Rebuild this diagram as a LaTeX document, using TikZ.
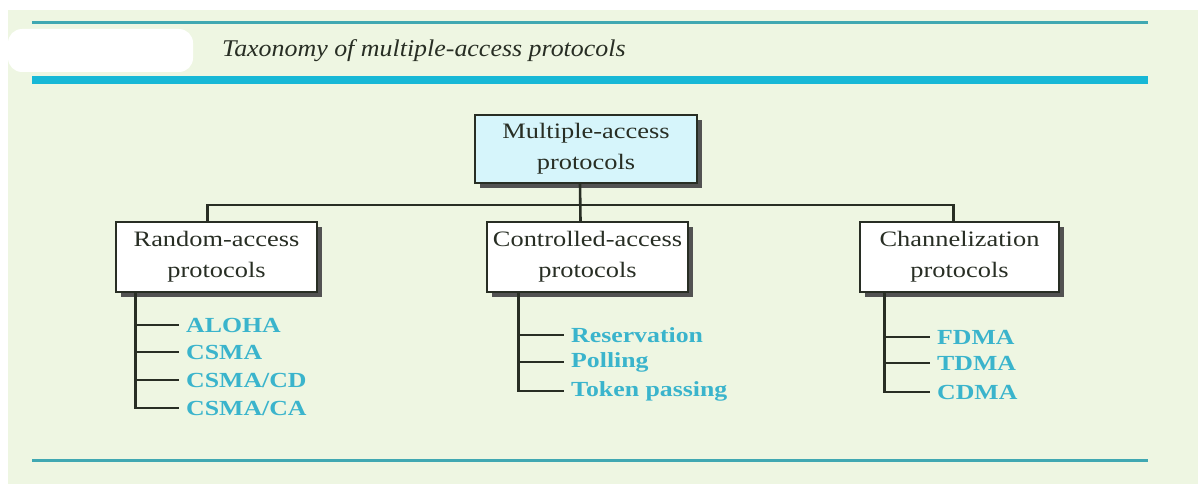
\documentclass[tikz,border=0pt]{standalone}
\usepackage{fontspec}
\setmainfont[FakeStretch=1.2]{Liberation Serif}
\newfontfamily\captionfont[FakeStretch=1.08]{Liberation Serif}
\usepackage{tikz}
\usetikzlibrary{positioning, shadows}

\definecolor{bgGreen}{RGB}{238,246,226}
\definecolor{ruleCyan}{RGB}{23,184,214}
\definecolor{thinCyan}{RGB}{64,168,178}
\definecolor{boxCyan}{RGB}{214,245,251}
\definecolor{itemCyan}{RGB}{58,180,204}
\definecolor{inkDark}{RGB}{40,46,36}

\tikzset{
  protobox/.style={draw=inkDark, line width=1.3pt, fill=white, minimum width=201pt, minimum height=70pt,
    inner sep=0pt, align=center, font=\fontsize{22}{31}\selectfont, text=inkDark,
    drop shadow={shadow xshift=5pt, shadow yshift=-5pt, fill=black!68, opacity=1}},
  protoitem/.style={anchor=west, inner xsep=7pt, inner ysep=0pt, text=itemCyan,
    font=\fontsize{21.5}{24}\selectfont\bfseries},
  link/.style={draw=inkDark, line width=2.6pt}
}

\begin{document}
\begin{tikzpicture}[x=1pt, y=-1pt]
  \useasboundingbox (0,0) rectangle (1198,484);
  \fill[bgGreen] (8,10) rectangle (1198,484);
  \fill[white, rounded corners=14pt] (8,29) rectangle (193,72);
  \draw[thinCyan, line width=3pt] (32,23) -- (1148,23);
  \draw[ruleCyan, line width=8pt] (32,80) -- (1148,80);
  \draw[thinCyan, line width=3pt] (32,460) -- (1148,460);

  \draw
    (222,57) node[anchor=base west, inner sep=0pt, text=inkDark, font=\fontsize{24}{26}\captionfont\itshape] (title){Taxonomy of multiple-access protocols}
    (586,149) node[protobox, fill=boxCyan, minimum width=222pt, minimum height=68pt] (multi){Multiple-access\\protocols}
    (216.5,257) node[protobox] (rand){Random-access\\protocols}
    (587.5,257) node[protobox] (ctrl){Controlled-access\\protocols}
    (959.5,257) node[protobox, minimum width=199pt] (chan){Channelization\\protocols}
    (179,325) node[protoitem] (aloha){ALOHA}
    (179,352) node[protoitem] (csma){CSMA}
    (179,380) node[protoitem] (csmacd){CSMA/CD}
    (179,408) node[protoitem] (csmaca){CSMA/CA}
    (564,335) node[protoitem] (reserv){Reservation}
    (564,362) node[protoitem] (poll){Polling}
    (564,391) node[protoitem] (token){Token passing}
    (930,337) node[protoitem] (fdma){FDMA}
    (930,363) node[protoitem] (tdma){TDMA}
    (930,392) node[protoitem] (cdma){CDMA};

  \coordinate (bus) at (0,205);
  \coordinate (randSpine) at ([xshift=20pt]rand.south west);
  \coordinate (ctrlSpine) at ([xshift=32pt]ctrl.south west);
  \coordinate (chanSpine) at ([xshift=25pt]chan.south west);

  \begin{scope}[link]
    \draw ([xshift=-6pt]multi.south) -- ([xshift=-7pt]ctrl.north);
    \draw ([xshift=-9pt]rand.north) |- (bus -| multi.south) -| ([xshift=-6pt]chan.north);
    \draw (randSpine) |- (csmaca.west);
    \foreach \n in {aloha, csma, csmacd}
      \draw (randSpine |- \n.west) -- (\n.west);
    \draw (ctrlSpine) |- (token.west);
    \foreach \n in {reserv, poll}
      \draw (ctrlSpine |- \n.west) -- (\n.west);
    \draw (chanSpine) |- (cdma.west);
    \foreach \n in {fdma, tdma}
      \draw (chanSpine |- \n.west) -- (\n.west);
  \end{scope}
\end{tikzpicture}
\end{document}
